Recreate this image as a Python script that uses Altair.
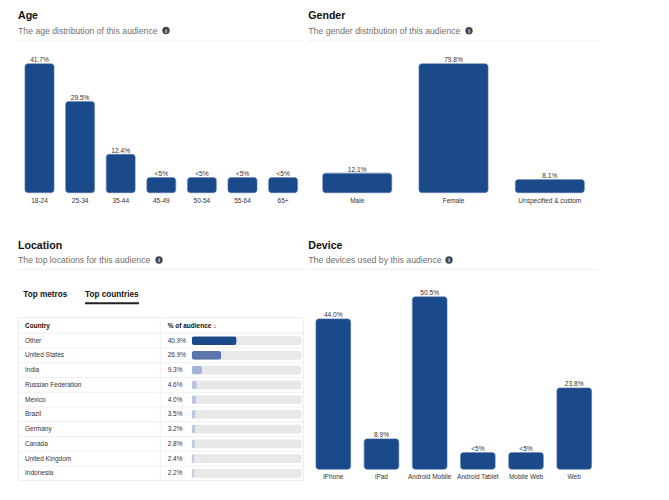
import altair as alt
import pandas as pd

FONT = "Liberation Sans"
BLUE = "#1b4a8b"

age_cats = ["18-24", "25-34", "35-44", "45-49", "50-54", "55-64", "65+"]
age_vals = [41.7, 29.5, 12.4, 4.9, 4.9, 4.9, 4.9]
age_labels = ["41.7%", "29.5%", "12.4%", "<5%", "<5%", "<5%", "<5%"]

gender_cats = ["Male", "Female", "Unspecified & custom"]
gender_vals = [12.1, 79.8, 8.1]
gender_labels = ["12.1%", "79.8%", "8.1%"]

device_cats = ["iPhone", "iPad", "Android Mobile", "Android Tablet", "Mobile Web", "Web"]
device_vals = [44.0, 8.9, 50.5, 4.9, 4.9, 23.8]
device_labels = ["44.0%", "8.9%", "50.5%", "<5%", "<5%", "23.8%"]

countries = ["Other", "United States", "India", "Russian Federation", "Mexico",
             "Brazil", "Germany", "Canada", "United Kingdom", "Indonesia"]
country_vals = [40.9, 26.9, 9.3, 4.6, 4.0, 3.5, 3.2, 2.8, 2.4, 2.2]
country_labels = ["40.9%", "26.9%", "9.3%", "4.6%", "4.0%", "3.5%", "3.2%", "2.8%", "2.4%", "2.2%"]

one = pd.DataFrame({"a": [0]})


def txt(s, x, y, size, color="#333333", weight="normal", align="left", baseline="alphabetic"):
    return alt.Chart(one).mark_text(
        text=s, font=FONT, fontSize=size, fontWeight=weight, color=color,
        align=align, baseline=baseline
    ).encode(x=alt.value(x), y=alt.value(y))


def hline(x1, x2, y, color="#f1f1f1", w=1.0):
    return alt.Chart(one).mark_rule(color=color, strokeWidth=w).encode(
        x=alt.value(x1), x2=alt.value(x2), y=alt.value(y))


def icon(x, y):
    c = alt.Chart(one).mark_point(filled=True, shape="circle", size=54, color="#474747", opacity=1).encode(
        x=alt.value(x), y=alt.value(y))
    t = txt("i", x, y + 0.3, 6, color="white", weight="bold", align="center", baseline="middle")
    return [c, t]


def bar_panel(cats, vals, labels, xrange, yrange, ymax, pad, label_y):
    df = pd.DataFrame({"cat": cats, "val": vals, "lab": labels})
    base = alt.Chart(df)
    xs = alt.Scale(domain=cats, range=xrange, paddingInner=pad, paddingOuter=pad / 2)
    ys = alt.Scale(domain=[0, ymax], range=yrange, nice=False, zero=True)
    x = alt.X("cat:N", scale=xs, axis=None)
    y = alt.Y("val:Q", scale=ys, axis=None)
    bars = base.mark_bar(color=BLUE, cornerRadius=3, stroke="#3a62a0", strokeWidth=0.6).encode(x=x, y=y)
    vtext = base.mark_text(font=FONT, fontSize=6.6, color="#333333", baseline="bottom", dy=-0.6).encode(
        x=x, y=y, text="lab:N")
    ctext = base.mark_text(font=FONT, fontSize=6.5, color="#333333", baseline="middle").encode(
        x=x, y=alt.value(label_y), text="cat:N")
    return [bars, vtext, ctext]


layers = []

# ---- headers ----
for (title, sub, tx, ty, sy, sep_x1, sep_x2, sep_y, ix, iy) in [
    ("Age", "The age distribution of this audience", 10, 11, 26.3, 10, 295, 33, 158.0, 22.5),
    ("Gender", "The gender distribution of this audience", 300.3, 11, 26.3, 300, 590, 33, 461.0, 22.7),
    ("Location", "The top locations for this audience", 10, 240.7, 255.3, 10, 295, 261.3, 151, 252),
    ("Device", "The devices used by this audience", 300.3, 240.7, 255.3, 300, 590, 261.3, 441, 252),
]:
    layers.append(txt(title, tx, ty, 10.6, color="#111111", weight="bold"))
    layers.append(txt(sub, tx, sy, 8.7, color="#707070"))
    layers.append(hline(sep_x1, sep_x2, sep_y))
    layers += icon(ix, iy)

# ---- bar panels ----
layers += bar_panel(age_cats, age_vals, age_labels, [11.2, 295.4], [184.7, 55.7], 41.7, 0.286, 193)
layers += bar_panel(gender_cats, gender_vals, gender_labels, [301.05, 589.95], [184.7, 55.7], 79.8, 0.283, 193)
layers += bar_panel(device_cats, device_vals, device_labels, [301.2, 590.3], [461.3, 288.7], 50.5, 0.28, 468.7)

# ---- location tabs ----
layers.append(txt("Top metros", 15.3, 289, 8.2, color="#111111", weight="bold"))
layers.append(txt("Top countries", 77, 289, 8.2, color="#111111", weight="bold"))
layers.append(hline(77, 131, 295.3, color="#222222", w=2))

# ---- location table ----
cdf = pd.DataFrame({"country": countries, "val": country_vals, "lab": country_labels})
tb = alt.Chart(cdf)
ys_t = alt.Scale(domain=countries, range=[325.3, 472.7], paddingInner=0, paddingOuter=0)
xs_t = alt.Scale(domain=[0, 100], range=[183.7, 293.7], nice=False, zero=True)
yt = alt.Y("country:N", scale=ys_t, axis=None)

box = alt.Chart(one).mark_rect(fill="white", stroke="#ececec", strokeWidth=1).encode(
    x=alt.value(10.3), x2=alt.value(295.3), y=alt.value(309.7), y2=alt.value(472.7))
layers.append(box)
layers.append(tb.mark_rule(color="#f0f0f0", strokeWidth=1).encode(
    y=alt.Y("country:N", scale=ys_t, axis=None, bandPosition=0),
    x=alt.value(10.3), x2=alt.value(295.3)))
layers.append(alt.Chart(one).mark_rule(color="#f0f0f0", strokeWidth=1).encode(
    x=alt.value(152.3), y=alt.value(309.7), y2=alt.value(472.7)))
layers.append(txt("Country", 17, 318, 6.5, color="#111111", weight="bold", baseline="middle"))
layers.append(txt("% of audience \u2193", 159.7, 318, 6.5, color="#111111", weight="bold", baseline="middle"))

layers.append(tb.mark_bar(color="#e8e8e8", height=8.7, cornerRadius=2.5).encode(
    x=alt.X(datum=0, scale=xs_t, axis=None), x2=alt.X2(datum=100), y=yt))
layers.append(tb.mark_bar(height=8.7, cornerRadius=2.5).encode(
    x=alt.X("val:Q", scale=xs_t, axis=None), y=yt,
    color=alt.Color("val:Q", scale=alt.Scale(domain=[0, 40.9], range=["#c8d5ea", BLUE]), legend=None)))
layers.append(tb.mark_text(font=FONT, fontSize=6.5, color="#333333", align="left", baseline="middle").encode(
    x=alt.value(17), y=yt, text="country:N"))
layers.append(tb.mark_text(font=FONT, fontSize=6.5, color="#333333", align="left", baseline="middle").encode(
    x=alt.value(159.7), y=yt, text="lab:N"))

chart = alt.layer(*layers).resolve_scale(
    x="independent", y="independent", color="independent"
).properties(
    width=653, height=484, padding=0, autosize="none", background="white"
).configure_view(stroke=None)

chart.save("out.html", embed_options={"renderer": "svg", "actions": False})
